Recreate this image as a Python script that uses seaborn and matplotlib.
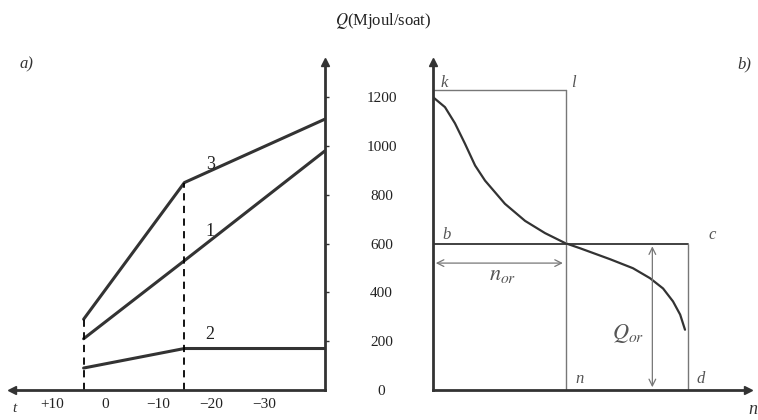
import matplotlib
matplotlib.use("Agg")
import matplotlib.pyplot as plt
import seaborn as sns
import pandas as pd

sns.set_theme(style="white")
plt.rcParams["font.family"] = ["Liberation Serif", "DejaVu Serif"]
plt.rcParams["mathtext.fontset"] = "stix"

# a) heat demand vs outdoor temperature
t_points = [4, -15, -41.5]
q_line1 = [210, 530, 980]
q_line2 = [90, 170, 170]
q_line3 = [290, 850, 1110]
t_ticks = [10, 0, -10, -20, -30]
t_labels = ["+10", "0", "\u221210", "\u221220", "\u221230"]

# b) duration curve
n_curve = [0.0, 0.47, 0.86, 1.25, 1.65, 2.04, 2.82, 3.61, 4.39, 5.18,
           5.76, 6.94, 7.84, 8.51, 9.02, 9.41, 9.69, 9.88]
q_curve = [1200, 1159, 1093, 1010, 920, 858, 763, 693, 643, 602,
           581, 536, 499, 458, 416, 363, 309, 247]
q_ticks = [0, 200, 400, 600, 800, 1000, 1200]
q_top = 1230
q_or = 600
n_or = 5.2
n_d = 10

dark = "#333333"
fig = plt.figure(figsize=(7.58, 4.20), dpi=100)
ax1 = fig.add_axes([12 / 758, 30 / 420, 313 / 758, 328 / 420])
ax2 = fig.add_axes([433 / 758, 30 / 420, 315 / 758, 328 / 420])

ylim = (0, 1344)

# ---- panel a
df_a = pd.DataFrame({
    "t": t_points * 3,
    "Q": q_line1 + q_line2 + q_line3,
    "line": ["1"] * 3 + ["2"] * 3 + ["3"] * 3,
})
sns.lineplot(data=df_a, x="t", y="Q", units="line", estimator=None,
             color=dark, lw=2.2, ax=ax1, sort=False)
ax1.plot([t_points[0]] * 2, [0, q_line3[0]], ls=(0, (4, 3)), color="black", lw=1.3)
ax1.plot([t_points[1]] * 2, [0, q_line3[1]], ls=(0, (4, 3)), color="black", lw=1.3)
ax1.set_xlim(17.5, -41.5)
ax1.set_ylim(*ylim)
ax1.set_xticks(t_ticks)
ax1.set_xticklabels(t_labels, fontsize=11, color="#222")
ax1.tick_params(axis="x", length=0, pad=6)
ax1.yaxis.tick_right()
ax1.set_yticks(q_ticks[1:])
ax1.set_yticklabels([])
ax1.tick_params(axis="y", length=3, width=1, color=dark, direction="out")
for s in ["top", "left"]:
    ax1.spines[s].set_visible(False)
for s in ["bottom", "right"]:
    ax1.spines[s].set_color(dark)
    ax1.spines[s].set_linewidth(2)
ax1.set_xlabel("")
ax1.set_ylabel("")
ax1.plot([0], [0], marker="<", color=dark, ms=6, transform=ax1.transAxes, clip_on=False)
ax1.plot([1], [1], marker="^", color=dark, ms=6, transform=ax1.transAxes, clip_on=False)
ax1.text(-19, 905, "3", fontsize=13, color="#222")
ax1.text(-19, 630, "1", fontsize=13, color="#222")
ax1.text(-19, 210, "2", fontsize=13, color="#222")
fig.text(20 / 758, 1 - 68 / 420, "a)", fontsize=12, style="italic", color="#333")
fig.text(12 / 758, 1 - 412 / 420, "t", fontsize=11, style="italic", color="#333")

# ---- panel b
df_b = pd.DataFrame({"n": n_curve, "Q": q_curve})
sns.lineplot(data=df_b, x="n", y="Q", color=dark, lw=1.6, ax=ax2, sort=False)
thin = "#777777"
ax2.plot([0, n_or], [q_top, q_top], color=thin, lw=1)
ax2.plot([n_or, n_or], [0, q_top], color=thin, lw=1)
ax2.plot([0, n_d], [q_or, q_or], color=dark, lw=1.3)
ax2.plot([n_d, n_d], [0, q_or], color=thin, lw=1)
ax2.annotate("", xy=(0, 520), xytext=(n_or, 520),
             arrowprops=dict(arrowstyle="<->", color=thin, lw=0.9))
ax2.annotate("", xy=(8.6, 0), xytext=(8.6, q_or),
             arrowprops=dict(arrowstyle="<->", color=thin, lw=0.9))
ax2.set_xlim(0, 12.35)
ax2.set_ylim(*ylim)
ax2.set_xticks([])
ax2.set_yticks(q_ticks)
ax2.set_yticklabels([str(v) for v in q_ticks], fontsize=11, color="#222")
ax2.tick_params(axis="y", length=3, width=1, color=dark, direction="out", pad=34)
for lab in ax2.get_yticklabels():
    lab.set_horizontalalignment("center")
for s in ["top", "right"]:
    ax2.spines[s].set_visible(False)
for s in ["bottom", "left"]:
    ax2.spines[s].set_color(dark)
    ax2.spines[s].set_linewidth(2)
ax2.set_xlabel("")
ax2.set_ylabel("")
ax2.plot([1], [0], marker=">", color=dark, ms=6, transform=ax2.transAxes, clip_on=False)
ax2.plot([0], [1], marker="^", color=dark, ms=6, transform=ax2.transAxes, clip_on=False)
lab_kw = dict(fontsize=12, style="italic", color="#555")
ax2.text(0.3, q_top + 10, "k", **lab_kw)
ax2.text(5.4, q_top + 10, "l", **lab_kw)
ax2.text(0.35, q_or + 20, "b", **lab_kw)
ax2.text(10.8, q_or + 20, "c", **lab_kw)
ax2.text(5.6, 30, "n", **lab_kw)
ax2.text(10.35, 30, "d", **lab_kw)
ax2.text(2.2, 450, "$n_{or}$", fontsize=16, color="#555")
ax2.text(7.0, 210, "$Q_{or}$", fontsize=16, color="#555")
fig.text(737 / 758, 1 - 68 / 420, "b)", fontsize=12, style="italic", color="#333")
fig.text(748 / 758, 1 - 414 / 420, "n", fontsize=13, style="italic", color="#333")

fig.text(383 / 758, 1 - 25 / 420, "$Q$(Mjoul/soat)", fontsize=12, ha="center", color="#222")

fig.savefig("out.png", dpi=100, facecolor="white")
